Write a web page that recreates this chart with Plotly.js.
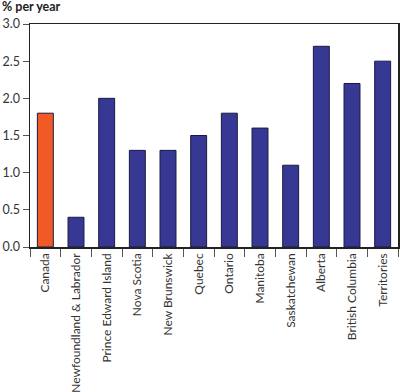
<!DOCTYPE html>
<html><head><meta charset="utf-8">
<script src="https://cdn.plot.ly/plotly-3.0.1.min.js"></script>
<style>body{margin:0;padding:0;background:#fff}#chart{width:400px;height:392px}</style>
</head><body><div id="chart"></div>
<script>
const categories = ["Canada","Newfoundland & Labrador","Prince Edward Island","Nova Scotia","New Brunswick","Quebec","Ontario","Manitoba","Saskatchewan","Alberta","British Columbia","Territories"];
const values = [1.8,0.4,2.0,1.3,1.3,1.5,1.8,1.6,1.1,2.7,2.2,2.5];
const barColors = categories.map((c,i)=> i===0 ? "#F15A24" : "#363893");
const yTicks = [0,0.5,1.0,1.5,2.0,2.5,3.0];
const yTickText = ["0.0","0.5","1.0","1.5","2.0","2.5","3.0"];

Plotly.newPlot("chart",[{
  type:"bar", x:categories, y:values,
  marker:{color:barColors, line:{color:"#1a1a40", width:1}},
  width:0.52, hoverinfo:"none"
}],{
  width:400,height:392,
  margin:{l:30,r:2,t:24,b:145},
  paper_bgcolor:"#fff",plot_bgcolor:"#fff",
  font:{family:"Lato, 'DejaVu Sans', sans-serif",size:12,color:"#222"},
  showlegend:false,
  xaxis:{type:"category",tickson:"boundaries",ticks:"outside",ticklen:8,tickcolor:"#555",tickwidth:1,
    tickangle:-90,showline:true,linecolor:"#222",linewidth:1.5,mirror:true,showgrid:false,
    tickfont:{size:12,color:"#333"}},
  yaxis:{range:[0,3],tickvals:yTicks,ticktext:yTickText,ticks:"outside",ticklen:6,tickcolor:"#555",
    showline:true,linecolor:"#222",linewidth:1.5,mirror:true,showgrid:false,zeroline:false,
    tickfont:{size:12.5,color:"#333"}},
  annotations:[{text:"<b>% per year</b>",xref:"paper",yref:"paper",x:0,xanchor:"left",
    xshift:-30,y:1,yanchor:"bottom",yshift:8,showarrow:false,font:{size:12.5,color:"#222"}}]
},{staticPlot:true});
</script></body></html>
